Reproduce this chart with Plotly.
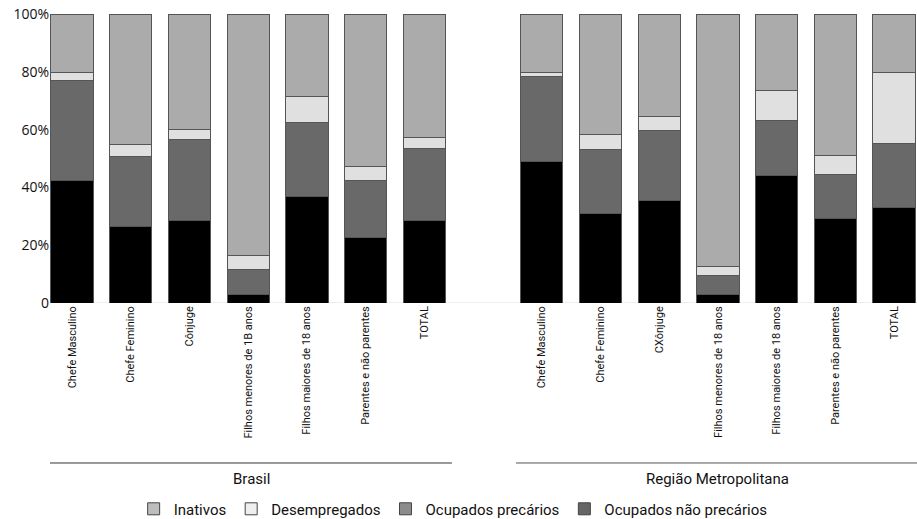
import plotly.graph_objects as go

categories_brasil = ["Chefe Masculino", "Chefe Feminino", "Cônjuge", "Filhos menores de 1B anos",
                     "Filhos maiores de 18 anos", "Parentes e não parentes", "TOTAL"]
categories_rm = ["Chefe Masculino", "Chefe Feminino", "CXônjuge", "Filhos menores de 18 anos",
                 "Filhos maiores de 18 anos", "Parentes e não parentes", "TOTAL"]

# Brasil
br_nao_precarios = [42.3, 26.6, 28.7, 2.8, 36.7, 22.6, 28.7]
br_precarios = [34.6, 24.0, 28.0, 8.7, 25.9, 19.7, 24.7]
br_desempregados = [2.9, 4.2, 3.2, 4.9, 8.7, 4.9, 4.0]
br_inativos = [20.2, 45.2, 40.1, 83.6, 28.7, 52.8, 42.6]

# Região Metropolitana
rm_nao_precarios = [48.9, 30.8, 35.4, 2.8, 44.2, 29.4, 32.9]
rm_precarios = [29.5, 22.3, 24.2, 6.7, 19.0, 15.2, 22.2]
rm_desempregados = [1.4, 5.1, 5.0, 3.1, 10.4, 6.5, 24.7]
rm_inativos = [20.2, 41.8, 35.4, 87.4, 26.4, 48.9, 20.2]

y_tickvals = [0, 20, 40, 60, 80, 100]
y_ticktext = ["0", "20%", "40%", "60%", "80%", "100%"]

legend_names = ["Inativos", "Desempregados", "Ocupados precários", "Ocupados não precários"]
legend_colors = ["#bdbdbd", "#efefef", "#8c8c8c", "#666666"]

x_br = list(range(len(categories_brasil)))
x_rm = [len(categories_brasil) + 1 + i for i in range(len(categories_rm))]
x_all = x_br + x_rm
labels_all = categories_brasil + categories_rm

series = [
    ("Ocupados não precários", br_nao_precarios + rm_nao_precarios, "#000000"),
    ("Ocupados precários", br_precarios + rm_precarios, "#696969"),
    ("Desempregados", br_desempregados + rm_desempregados, "#e0e0e0"),
    ("Inativos", br_inativos + rm_inativos, "#ababab"),
]

fig = go.Figure()
for name, vals, color in series:
    fig.add_trace(go.Bar(
        x=x_all, y=vals, name=name, showlegend=False, width=0.72,
        marker=dict(color=color, line=dict(color="#555555", width=1)),
    ))

for name, color in zip(legend_names, legend_colors):
    fig.add_trace(go.Bar(
        x=[None], y=[None], name=name, showlegend=True,
        marker=dict(color=color, line=dict(color="#444444", width=1)),
    ))

label_font = "Roboto, sans-serif"

fig.update_layout(
    barmode="stack",
    width=917, height=519,
    margin=dict(l=50, r=0, t=14, b=216, autoexpand=False),
    plot_bgcolor="white", paper_bgcolor="white",
    font=dict(family="Open Sans, sans-serif", size=14, color="#111111"),
    xaxis=dict(
        range=[-0.375, 14.39], automargin=False,
        tickmode="array", tickvals=x_all, ticktext=labels_all,
        tickangle=-90, ticks="", showgrid=False, zeroline=False,
        tickfont=dict(family=label_font, size=11, color="#111111"),
        showline=False,
    ),
    yaxis=dict(
        range=[0, 100], automargin=False, tickmode="array", tickvals=y_tickvals, ticktext=y_ticktext,
        showgrid=False, zeroline=False, ticks="", showline=False,
        tickfont=dict(size=14, color="#111111"),
    ),
    legend=dict(
        orientation="h", x=0.465, xanchor="center", y=-0.713, yanchor="middle",
        traceorder="normal", font=dict(family=label_font, size=15, color="#111111"),
    ),
)

# baseline
fig.add_shape(type="line", xref="paper", yref="y", x0=0, x1=1, y0=0, y1=0,
              line=dict(color="#dddddd", width=1), layer="below")

# group lines
fig.add_shape(type="line", xref="x", yref="paper", x0=-0.375, x1=6.47, y0=-0.5536, y1=-0.5536,
              line=dict(color="#333333", width=1))
fig.add_shape(type="line", xref="x", yref="paper", x0=7.56, x1=14.39, y0=-0.5536, y1=-0.5536,
              line=dict(color="#555555", width=1))
fig.add_annotation(text="Brasil", xref="x", yref="paper", x=3.05, y=-0.609, yanchor="middle",
                   showarrow=False, font=dict(family=label_font, size=15, color="#111111"))
fig.add_annotation(text="Região Metropolitana", xref="x", yref="paper", x=11.0, y=-0.609, yanchor="middle",
                   showarrow=False, font=dict(family=label_font, size=15, color="#111111"))

fig.write_html("out.html", config={"displayModeBar": False},
               post_script="document.body.style.margin='0';document.body.style.overflow='hidden';")
